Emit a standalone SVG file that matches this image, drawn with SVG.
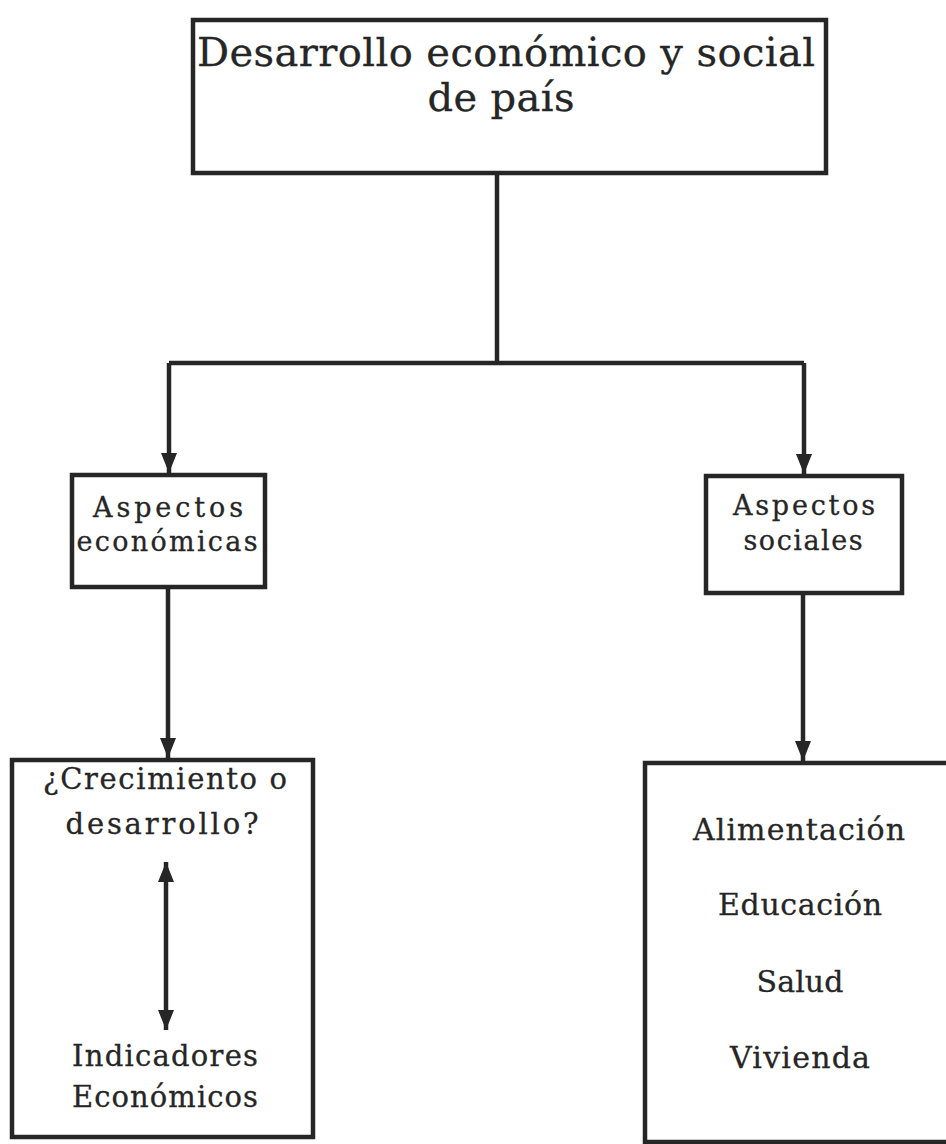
<svg xmlns="http://www.w3.org/2000/svg" width="946" height="1144" viewBox="0 0 946 1144">
<style>
.box{fill:#fff;stroke:#262626;stroke-width:4.5}
.t{font-family:"DejaVu Serif","Liberation Serif",serif;fill:#262626;stroke:#262626;stroke-width:0.3;text-anchor:middle}
.c{fill:none;stroke:#262626;stroke-width:4.5}
</style>
<defs>
<marker id="ah" markerUnits="userSpaceOnUse" markerWidth="22" markerHeight="22" viewBox="0 0 22 22" refX="20" refY="11" orient="auto-start-reverse">
<path d="M0,3 L20,11 L0,19 Z" fill="#262626"/>
</marker>
</defs>
<rect width="946" height="1144" fill="#fff"/>
<g id="top">
<rect class="box" x="193" y="20" width="633" height="153"/>
<text class="t" x="506" y="66" font-size="40" textLength="618" lengthAdjust="spacing">Desarrollo económico y social</text>
<text class="t" x="501" y="111" font-size="40" textLength="147" lengthAdjust="spacing">de país</text>
</g>
<g id="econ">
<rect class="box" x="72" y="475" width="193" height="112"/>
<text class="t" x="168" y="517" font-size="27" textLength="150" lengthAdjust="spacing">Aspectos</text>
<text class="t" x="167" y="551" font-size="27" textLength="181" lengthAdjust="spacing">económicas</text>
</g>
<g id="social">
<rect class="box" x="706" y="476" width="196" height="117"/>
<text class="t" x="804" y="515" font-size="27" textLength="142" lengthAdjust="spacing">Aspectos</text>
<text class="t" x="803" y="550" font-size="27" textLength="119" lengthAdjust="spacing">sociales</text>
</g>
<g id="crec">
<rect class="box" x="12" y="760" width="301" height="377"/>
<text class="t" x="165" y="789" font-size="29" textLength="244" lengthAdjust="spacing">¿Crecimiento o</text>
<text class="t" x="162" y="834" font-size="29" textLength="193" lengthAdjust="spacing">desarrollo?</text>
<text class="t" x="165" y="1066" font-size="29" textLength="186" lengthAdjust="spacing">Indicadores</text>
<text class="t" x="165" y="1107" font-size="29" textLength="186" lengthAdjust="spacing">Económicos</text>
</g>
<g id="lista">
<rect class="box" x="645" y="763" width="330" height="379"/>
<text class="t" x="799" y="840" font-size="30" textLength="212" lengthAdjust="spacing">Alimentación</text>
<text class="t" x="800" y="915" font-size="30" textLength="164" lengthAdjust="spacing">Educación</text>
<text class="t" x="800" y="992" font-size="30" textLength="87" lengthAdjust="spacing">Salud</text>
<text class="t" x="800" y="1068" font-size="30" textLength="140" lengthAdjust="spacing">Vivienda</text>
</g>
<g id="connectors">
<path class="c" d="M497,173 V363"/>
<path class="c" d="M169,363 H804"/>
<path class="c" d="M169,363 V473" marker-end="url(#ah)"/>
<path class="c" d="M804,363 V474" marker-end="url(#ah)"/>
<path class="c" d="M168,587 V758" marker-end="url(#ah)"/>
<path class="c" d="M803,593 V761" marker-end="url(#ah)"/>
<path class="c" d="M166,862 V1030" marker-start="url(#ah)" marker-end="url(#ah)"/>
</g>
</svg>
